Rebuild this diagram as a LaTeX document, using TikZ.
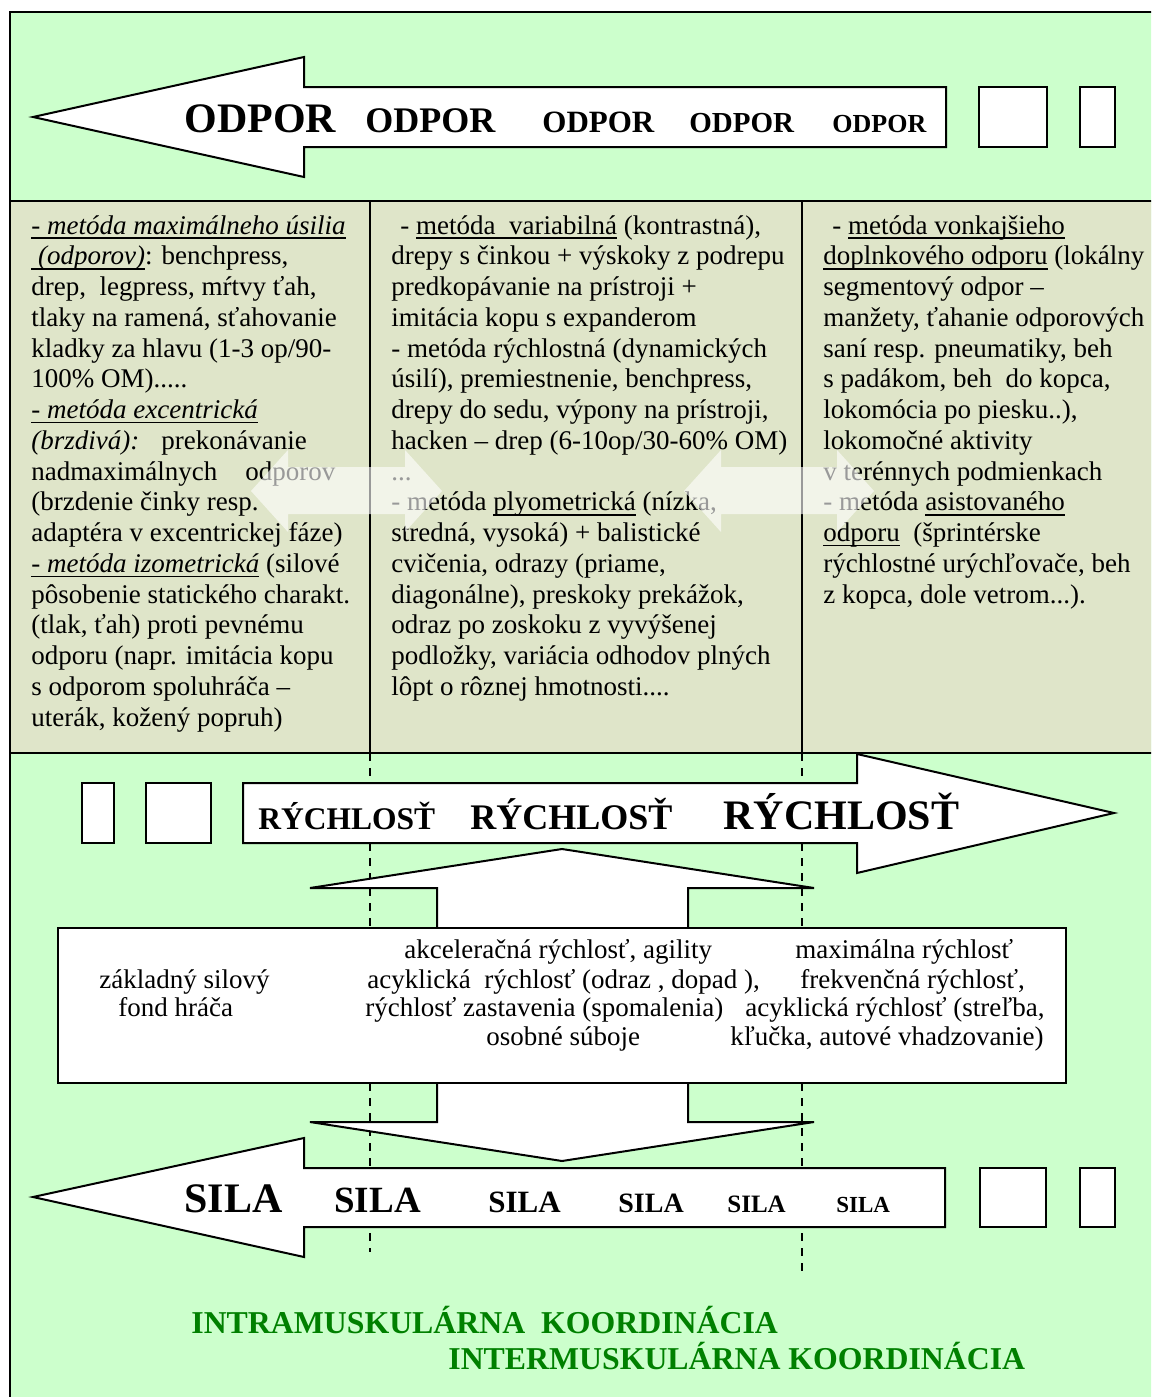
\documentclass[tikz,border=0pt]{standalone}
\usepackage{fontspec}
\setmainfont{Liberation Serif}
\definecolor{bggreen}{RGB}{204,255,204}
\definecolor{bandgray}{RGB}{223,229,201}
\definecolor{koord}{RGB}{0,128,0}
% underline at a fixed depth below the baseline
\newcommand\undl[1]{\leavevmode\setbox0\hbox{#1}\rlap{\rule[-2.4pt]{\wd0}{0.7pt}}\box0\relax}
% a column of left-aligned lines with a fixed line pitch; its baseline is the first line
\newcommand\txtcol[1]{\vtop{\baselineskip=15.375pt\lineskip=0pt\lineskiplimit=-40pt\halign{##\hfil\cr#1\crcr}}}
\begin{document}
\begin{tikzpicture}[x=0.5pt,y=-0.5pt,
  shapeline/.style={draw=black,line width=1pt,fill=white,line join=miter},
  word/.style={anchor=base west,inner sep=0pt,font=\bfseries\fontsize{#1}{#1}\selectfont},
  body/.style={anchor=base west,inner sep=0pt,font=\fontsize{13.5}{15.375}\selectfont},
  guide/.style={draw=black,line width=0.8pt,dash pattern=on 4pt off 3.5pt},
  glassarrow/.style={fill=white,fill opacity=0.6}]

\useasboundingbox (0,0) rectangle (1151,1397);

% background panels and frame
\begin{scope}
  \clip (0,0) rectangle (1151,1397);
  \fill[bggreen] (10,12) rectangle (1160,1410);
  \fill[bandgray] (10,201) rectangle (1160,753);
  \draw[line width=1pt] (1160,12) -- (10,12) -- (10,1410);
  \draw[line width=1pt] (10,201) -- (1160,201) (10,753) -- (1160,753);
  \draw[line width=1pt] (370,201) -- (370,753) (802,201) -- (802,753);
\end{scope}

% dashed continuations of the column borders
\draw[guide] (370,753) -- (370,1252);
\draw[guide] (802,753) -- (802,1277);

% ODPOR arrow with its two boxes
\draw[shapeline] (33,117) -- (304,57) -- (304,87) -- (946,87) -- (946,147)
  -- (304,147) -- (304,177) -- cycle;
\draw[shapeline] (979,87) rectangle (1047,147);
\draw[shapeline] (1080,87) rectangle (1115,147);

% RÝCHLOSŤ arrow with its two boxes
\draw[shapeline] (1114,813) -- (857,754) -- (857,783) -- (243,783) -- (243,843)
  -- (857,843) -- (857,873) -- cycle;
\draw[shapeline] (82,783) rectangle (114,843);
\draw[shapeline] (146,783) rectangle (211,843);

% vertical double arrow and the box over it
\draw[shapeline] (562,849) -- (814,888) -- (688,888) -- (688,1122) -- (814,1122)
  -- (562,1161) -- (310,1122) -- (437,1122) -- (437,888) -- (310,888) -- cycle;
\draw[shapeline] (58,928) rectangle (1066,1083);

% SILA arrow with its two boxes
\draw[shapeline] (33,1197) -- (304,1138) -- (304,1168) -- (945,1168) -- (945,1227)
  -- (304,1227) -- (304,1257) -- cycle;
\draw[shapeline] (980,1168) rectangle (1046,1227);
\draw[shapeline] (1080,1168) rectangle (1115,1227);

% arrow words
\node[word=21]   (od1) at (184,132) {ODPOR};
\node[word=18]   (od2) at (365,132) {ODPOR};
\node[word=15.5] (od3) at (542,132) {ODPOR};
\node[word=14.5] (od4) at (689,132) {ODPOR};
\node[word=13]   (od5) at (832,132) {ODPOR};

\node[word=15.75] (ry1) at (258,829) {RÝCHLOSŤ};
\node[word=18]    (ry2) at (470,829) {RÝCHLOSŤ};
\node[word=21]    (ry3) at (723,829) {RÝCHLOSŤ};

\node[word=21]   (si1) at (184,1212) {SILA};
\node[word=18.5] (si2) at (334,1212) {SILA};
\node[word=15.5] (si3) at (488,1212) {SILA};
\node[word=14]   (si4) at (618,1212) {SILA};
\node[word=12.5] (si5) at (727,1212) {SILA};
\node[word=11.5] (si6) at (836,1212) {SILA};

% method columns
\node[body] (col1) at (31,234) {\txtcol{%
\undl{\textit{- metóda maximálneho úsilia}}\cr
\undl{\textit{\ (odporov)}}: benchpress,\cr
drep,\ \ legpress, mŕtvy ťah,\cr
tlaky na ramená, sťahovanie\cr
kladky za hlavu (1-3 op/90-\cr
100\% OM).....\cr
\undl{\textit{- metóda excentrická}}\cr
\textit{(brzdivá):}\hspace{11pt}prekonávanie\cr
nadmaximálnych\hspace{14pt}odporov\cr
(brzdenie činky resp.\cr
adaptéra v excentrickej fáze)\cr
\undl{\textit{- metóda izometrická}} (silové\cr
pôsobenie statického charakt.\cr
(tlak, ťah) proti pevnému\cr
odporu (napr. imitácia kopu\cr
s odporom spoluhráča –\cr
uterák, kožený popruh)}};

\node[body] (col2) at (391,234) {\txtcol{%
\hspace*{4.5pt}- \undl{metóda\ \ variabilná} (kontrastná),\cr
drepy s činkou + výskoky z podrepu\cr
predkopávanie na prístroji +\cr
imitácia kopu s expanderom\cr
- metóda rýchlostná (dynamických\cr
úsilí), premiestnenie, benchpress,\cr
drepy do sedu, výpony na prístroji,\cr
hacken – drep (6-10op/30-60\% OM)\cr
...\cr
- metóda \undl{plyometrická} (nízka,\cr
stredná, vysoká) + balistické\cr
cvičenia, odrazy (priame,\cr
diagonálne), preskoky prekážok,\cr
odraz po zoskoku z vyvýšenej\cr
podložky, variácia odhodov plných\cr
lôpt o rôznej hmotnosti....}};

\node[body] (col3) at (823,234) {\txtcol{%
\hspace*{4.5pt}- \undl{metóda vonkajšieho}\cr
\undl{doplnkového odporu} (lokálny\cr
segmentový odpor –\cr
manžety, ťahanie odporových\cr
saní resp. pneumatiky, beh\cr
s padákom, beh\ \ do kopca,\cr
lokomócia po piesku..),\cr
lokomočné aktivity\cr
v terénnych podmienkach\cr
- metóda \undl{asistovaného}\cr
\undl{odporu}\ \ (šprintérske\cr
rýchlostné urýchľovače, beh\cr
z kopca, dole vetrom...).}};

% translucent double arrows across the column borders
\fill[glassarrow] (251,491) -- (288,450) -- (288,467) -- (405,467) -- (405,450)
  -- (442,491) -- (405,532) -- (405,514) -- (288,514) -- (288,532) -- cycle;
\fill[glassarrow] (684,491) -- (721,450) -- (721,467) -- (837,467) -- (837,450)
  -- (874,491) -- (837,532) -- (837,514) -- (721,514) -- (721,532) -- cycle;

% speed qualities in the central box
\node[body] (za1) at (99,988)   {základný silový};
\node[body] (za2) at (118,1016) {fond hráča};
\node[body] (ak1) at (404,958)  {akceleračná rýchlosť, agility};
\node[body] (ak2) at (367,988)  {acyklická\ \ rýchlosť (odraz , dopad ),};
\node[body] (ak3) at (365,1016) {rýchlosť zastavenia (spomalenia)};
\node[body] (ak4) at (486,1045) {osobné súboje};
\node[body] (mx1) at (795,958)  {maximálna rýchlosť};
\node[body] (mx2) at (800,988)  {frekvenčná rýchlosť,};
\node[body] (mx3) at (745,1016) {acyklická rýchlosť (streľba,};
\node[body] (mx4) at (730,1045) {kľučka, autové vhadzovanie)};

% coordination labels
\node[word=15.9,text=koord] (intra) at (191,1333) {INTRAMUSKULÁRNA\ \ KOORDINÁCIA};
\node[word=15.9,text=koord] (inter) at (448,1369) {INTERMUSKULÁRNA KOORDINÁCIA};
\end{tikzpicture}
\end{document}
